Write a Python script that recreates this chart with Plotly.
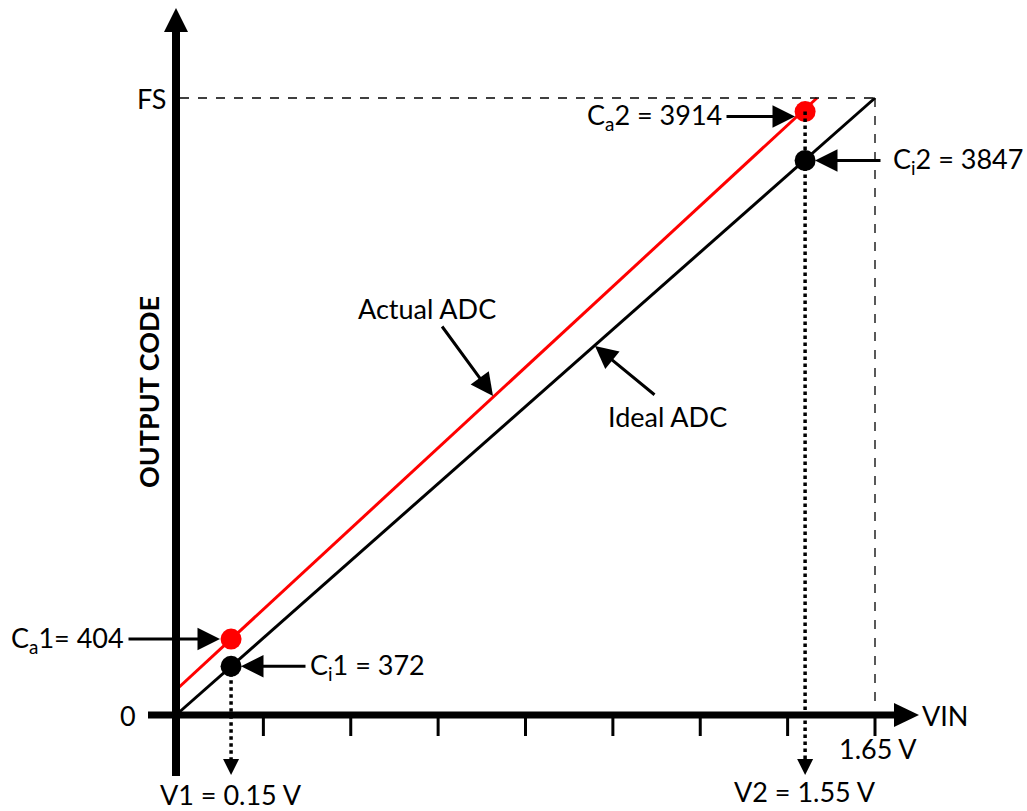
import plotly.graph_objects as go

# ---------------- data ----------------
ideal_vin = [0.0, 1.65]
ideal_code = [0, 4095]
actual_vin = [0.0, 1.513]
actual_code = [166, 4095]

point_vin = [0.13, 1.485]           # where V1 / V2 sit on the drawing
ideal_pts = [323, 3680]
actual_pts = [504, 4005]

ideal_labels = ["C<sub>i</sub>1 = 372", "C<sub>i</sub>2 = 3847"]
actual_labels = ["C<sub>a</sub>1= 404", "C<sub>a</sub>2 = 3914"]
v_labels = ["V1 = 0.15 V", "V2 = 1.55 V"]
fs_code = 4095
vmax = 1.65
n_ticks = 8

# ---------------- geometry helpers (pixel -> data) ----------------
W, H = 1027, 811
OX, OY = 176, 715          # origin pixel
PX_V = 699 / vmax          # px per volt
PX_C = 617 / fs_code       # px per code


def X(px):
    return (px - OX) / PX_V


def Y(py):
    return (OY - py) / PX_C


FONT = "Lato"
FS = 27
fig = go.Figure()

fig.add_trace(go.Scatter(x=actual_vin, y=actual_code, mode="lines",
                         line=dict(color="#ff0000", width=3), showlegend=False))
fig.add_trace(go.Scatter(x=ideal_vin, y=ideal_code, mode="lines",
                         line=dict(color="black", width=3), showlegend=False))

shapes = []
dx = 8 / PX_V
# dotted drop lines with arrowheads
for i, v in enumerate(point_vin):
    top = actual_pts[i] if i == 1 else ideal_pts[i]
    shapes.append(dict(type="line", x0=v, x1=v, y0=top, y1=Y(760),
                       line=dict(color="black", width=3.5, dash="dot")))
    shapes.append(dict(type="path",
                       path=f"M {v - dx},{Y(759)} L {v + dx},{Y(759)} L {v},{Y(775)} Z",
                       fillcolor="black", line=dict(width=0)))

fig.add_trace(go.Scatter(x=point_vin, y=actual_pts, mode="markers",
                         marker=dict(color="#ff0000", size=21), showlegend=False))
fig.add_trace(go.Scatter(x=point_vin, y=ideal_pts, mode="markers",
                         marker=dict(color="black", size=21), showlegend=False))

# dashed full-scale guides
shapes.append(dict(type="line", x0=X(180), x1=vmax, y0=fs_code, y1=fs_code,
                   line=dict(color="black", width=1.3, dash="dash")))
shapes.append(dict(type="line", x0=vmax, x1=vmax, y0=fs_code, y1=Y(706),
                   line=dict(color="black", width=1.3, dash="dash")))

# axes
shapes.append(dict(type="line", x0=0, x1=0, y0=Y(776), y1=Y(30),
                   line=dict(color="black", width=8)))
shapes.append(dict(type="path",
                   path=f"M {X(OX - 12)},{Y(32)} L {X(OX + 12)},{Y(32)} L 0,{Y(8)} Z",
                   fillcolor="black", line=dict(width=0)))
shapes.append(dict(type="line", x0=X(148), x1=X(897), y0=0, y1=0,
                   line=dict(color="black", width=7)))
shapes.append(dict(type="path",
                   path=f"M {X(894)},{Y(OY - 12)} L {X(894)},{Y(OY + 12)} L {X(919)},0 Z",
                   fillcolor="black", line=dict(width=0)))
# ticks
for k in range(1, n_ticks + 1):
    xv = vmax * k / n_ticks
    shapes.append(dict(type="line", x0=xv, x1=xv, y0=0, y1=Y(736),
                       line=dict(color="black", width=3)))

fig.update_layout(shapes=shapes)

ann = []


def text(x, y, s, size=FS, xanchor="center", **kw):
    ann.append(dict(x=x, y=y, text=s, showarrow=False, xanchor=xanchor,
                    yanchor="middle", font=dict(family=FONT, size=size, color="black"), **kw))


def arrow(x0, y0, x1, y1):
    ann.append(dict(x=x1, y=y1, ax=x0, ay=y0, axref="x", ayref="y", xref="x", yref="y",
                    text="", showarrow=True, arrowhead=2, arrowsize=1.5,
                    arrowwidth=3, arrowcolor="black", standoff=0))


# axis labels
text(X(128), 0, "0")
text(X(168), fs_code, "FS", xanchor="right")
text(X(920), 0, "VIN", xanchor="left")
text(vmax + X(OX + 3), Y(748), "1.65 V", xanchor="center")
text(point_vin[0], Y(794), v_labels[0])
text(point_vin[1], Y(791), v_labels[1])
ann.append(dict(x=X(148), y=Y(392), text="<b>OUTPUT CODE</b>", showarrow=False,
                textangle=-90, font=dict(family=FONT, size=FS, color="black")))

# callouts
dy2 = Y(118) - Y(113)
text(X(126), actual_pts[0], actual_labels[0], xanchor="right")
arrow(X(127), actual_pts[0], X(220), actual_pts[0])
text(X(308), ideal_pts[0], ideal_labels[0], xanchor="left")
arrow(X(307), ideal_pts[0], X(241), ideal_pts[0])
text(X(724), actual_pts[1] + dy2, actual_labels[1], xanchor="right")
arrow(X(725), actual_pts[1] + dy2, X(795), actual_pts[1] + dy2)
text(X(891), ideal_pts[1], ideal_labels[1], xanchor="left")
arrow(X(882), ideal_pts[1], X(815), ideal_pts[1])

text(X(427), Y(308), "Actual ADC")
arrow(X(441), Y(325), X(493), Y(396))
text(X(667), Y(416), "Ideal ADC")
arrow(X(656), Y(396), X(595), Y(346))

fig.update_layout(
    annotations=ann,
    width=W, height=H,
    margin=dict(l=0, r=0, t=0, b=0),
    paper_bgcolor="white", plot_bgcolor="white",
    xaxis=dict(range=[X(0), X(W)], visible=False, fixedrange=True),
    yaxis=dict(range=[Y(H), Y(0)], visible=False, fixedrange=True),
    showlegend=False,
)

fig.write_html("out.html", config={"displayModeBar": False},
               post_script="document.body.style.margin='0';document.body.style.overflow='hidden';")
